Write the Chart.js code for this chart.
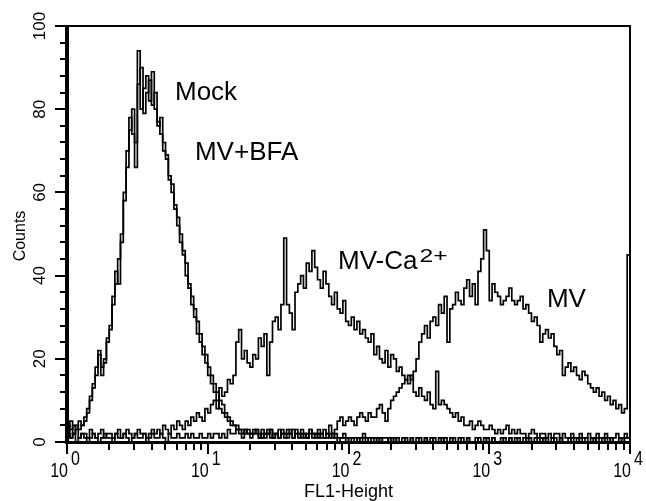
<!DOCTYPE html>
<html>
<head>
<meta charset="utf-8">
<script src="https://cdn.jsdelivr.net/npm/chart.js@4/dist/chart.umd.min.js"></script>
<style>
  html, body { margin: 0; padding: 0; background: #ffffff; }
  #c { display: block; }
</style>
</head>
<body>
<canvas id="c" width="646" height="501"></canvas>
<script>
// ---- data ----
const channelsPerDecade = 50;            // 200 channels across 10^0 .. 10^4
const decadeExponents = [0, 1, 2, 3, 4]; // x tick labels 10^n
const countTicks = [0, 20, 40, 60, 80, 100];
const xTitle = "FL1-Height";
const yTitle = "Counts";
const seriesNames = ["Mock", "MV+BFA", "MV-Ca2+", "MV"];

const mock = [
  4,3,5,2,4,3,4,5,8,11,
  14,18,21,16,20,24,28,33,41,38,
  50,58,70,78,74,66,94,80,85,88,
  82,89,80,77,74,72,68,63,60,57,
  52,48,45,40,37,33,30,26,24,21,
  19,16,14,12,10,8,7,6,5,4,
  4,3,3,2,3,2,1,2,3,1,
  2,1,2,3,1,2,1,2,1,2,
  3,1,2,1,2,1,2,3,1,2,
  1,2,1,1,2,1,2,1,1,2,
  1,0,1,1,0,1,2,0,1,1,
  0,1,0,1,1,0,1,0,1,0,
  1,0,0,1,0,1,0,0,1,0,
  0,1,0,0,1,0,0,1,0,0,
  1,0,0,1,0,0,1,0,0,1,
  0,0,1,0,0,1,0,0,1,0,
  0,1,0,0,1,0,0,1,0,0,
  1,0,0,1,0,0,1,0,0,1,
  0,0,1,0,0,1,0,0,1,0,
  0,1,0,0,1,0,0,1,0,1,
  1
];

const mvBfa = [
  5,4,3,4,3,5,4,6,7,10,
  13,16,22,18,19,25,27,35,38,44,
  48,60,66,75,80,72,86,90,79,84,
  87,81,84,76,78,70,69,64,62,56,
  54,50,46,43,38,35,32,29,26,23,
  21,18,16,14,12,10,9,7,6,5,
  4,4,3,3,2,3,2,2,3,2,
  1,2,3,1,2,2,1,3,2,1,
  2,1,3,2,1,2,1,2,2,1,
  2,1,1,2,1,2,1,0,1,1,
  0,1,1,0,1,0,1,1,0,1,
  1,0,1,0,0,1,0,1,0,0,
  0,1,0,1,0,0,1,0,1,0,
  1,0,0,1,0,1,0,0,1,0,
  0,1,0,1,0,0,0,1,0,0,
  1,0,1,0,0,0,1,0,1,0,
  1,0,0,1,0,1,0,0,0,1,
  0,1,0,0,1,0,1,0,0,0,
  1,0,0,1,0,0,0,1,0,1,
  0,0,1,0,1,0,0,0,1,0,
  0
];

const mvCa = [
  3,2,1,2,3,1,2,2,1,3,
  2,1,2,3,1,2,2,1,2,3,
  1,2,3,2,1,2,3,2,2,1,
  2,3,2,3,2,4,3,2,4,3,
  5,4,3,5,4,6,5,7,6,5,
  8,7,9,10,8,13,11,12,15,14,
  16,24,27,20,22,19,18,21,20,25,
  23,26,16,24,29,30,27,33,49,33,
  31,27,36,38,40,37,43,41,46,42,
  39,37,41,38,35,33,36,32,31,34,
  29,28,30,27,29,26,27,25,24,26,
  21,23,20,19,22,18,21,20,17,18,
  16,15,14,16,12,11,13,11,10,12,
  9,8,17,9,10,9,8,7,6,7,
  5,6,4,4,5,3,4,5,4,3,
  3,4,3,2,3,2,3,4,2,3,
  2,3,2,2,1,2,3,2,1,2,
  2,1,2,1,2,2,1,2,1,1,
  2,1,1,2,1,1,2,1,1,2,
  1,1,2,1,1,1,2,1,1,2,
  1
];

const mv = [
  52,3,1,2,0,1,2,1,0,1,
  2,1,0,1,2,1,1,0,2,1,
  1,2,1,0,1,2,1,1,2,0,
  1,2,1,1,2,1,0,2,1,1,
  2,1,1,2,1,2,1,1,2,1,
  1,2,1,2,2,1,2,1,3,2,
  2,3,2,1,3,2,2,3,2,1,
  3,2,2,3,1,2,3,2,2,3,
  2,3,2,2,3,2,1,3,2,2,
  3,2,3,2,4,2,3,5,6,4,
  5,6,5,4,6,7,6,5,7,6,
  6,8,9,7,5,8,10,11,12,13,
  14,15,16,15,17,20,24,26,28,25,
  29,30,28,33,31,35,24,32,33,36,
  34,33,37,39,35,38,33,41,44,51,
  46,34,38,36,35,33,34,35,37,34,
  33,34,35,32,33,31,29,30,28,24,
  26,27,25,26,23,21,22,16,18,19,
  17,18,16,15,17,16,14,13,12,13,
  11,12,10,11,9,10,8,9,7,8,
  45
];

// ---- presentation ----
const FONT = '"Liberation Sans", Arial, Helvetica, sans-serif';
const annotations = [
  { text: "Mock",   x: 5.85, y: 82.2 },
  { text: "MV+BFA", x: 8.11, y: 67.8 },
  { text: "MV-Ca",  sup: "2+", x: 84.2, y: 41.6 },
  { text: "MV",     x: 2570, y: 32.5 }
];

function toPoints(arr) {
  return arr.map((v, i) => ({ x: Math.pow(10, i / channelsPerDecade), y: v }));
}

const allSeries = [mock, mvBfa, mvCa, mv];

const framePlugin = {
  id: 'framePlugin',
  afterDraw(chart) {
    const ctx = chart.ctx;
    const xs = chart.scales.x, ys = chart.scales.y;
    const ca = chart.chartArea;
    const L = Math.round(ca.left), R = Math.round(ca.right);
    const T = Math.round(ca.top), B = Math.round(ca.bottom);
    ctx.save();
    ctx.fillStyle = '#000000';
    // frame
    ctx.fillRect(L - 1, T - 1, R - L + 2, 2);      // top
    ctx.fillRect(R - 1, T - 1, 2, B - T + 2);      // right
    ctx.fillRect(L - 2, B - 1, R - L + 3, 3);      // bottom
    ctx.fillRect(L - 2, T - 1, 4, B - T + 3);      // left

    // y ticks every 4 counts, longer at labelled values
    for (let v = 0; v <= 100; v += 4) {
      const y = Math.round(ys.getPixelForValue(v));
      const len = countTicks.includes(v) ? 10 : 5;
      ctx.fillRect(L - 2 - len, y - 1, len, 2);
    }
    // x ticks: decades and 2..9 minor
    for (let d = 0; d < decadeExponents.length - 1; d++) {
      for (let k = 1; k <= 9; k++) {
        const x = Math.round(xs.getPixelForValue(k * Math.pow(10, decadeExponents[d])));
        const len = k === 1 ? 10 : 6;
        ctx.fillRect(x - 1, B + 2, 2, len);
      }
    }
    {
      const x = Math.round(xs.getPixelForValue(Math.pow(10, decadeExponents[decadeExponents.length - 1])));
      ctx.fillRect(x - 1, B + 2, 2, 10);
    }

    // y tick labels (rotated)
    ctx.font = '17px ' + FONT;
    ctx.textAlign = 'center';
    ctx.textBaseline = 'alphabetic';
    countTicks.forEach(v => {
      const y = ys.getPixelForValue(v);
      ctx.save();
      ctx.translate(45, y);
      ctx.rotate(-Math.PI / 2);
      ctx.fillText(String(v), 0, 0);
      ctx.restore();
    });
    // y title
    ctx.save();
    ctx.font = '16px ' + FONT;
    ctx.translate(25, (ca.top + ca.bottom) / 2 + 2);
    ctx.rotate(-Math.PI / 2);
    ctx.textAlign = 'center';
    ctx.fillText(yTitle, 0, 0);
    ctx.restore();

    // x tick labels 10^n
    decadeExponents.forEach(e => {
      const x = xs.getPixelForValue(Math.pow(10, e));
      ctx.save();
      ctx.font = '20px ' + FONT;
      ctx.translate(x + 1, 477);
      ctx.scale(0.8, 1);
      ctx.textAlign = 'right';
      ctx.fillText('10', 0, 0);
      ctx.restore();
      ctx.save();
      ctx.font = '20px ' + FONT;
      ctx.translate(x + 4, 465);
      ctx.scale(0.8, 1);
      ctx.textAlign = 'left';
      ctx.fillText(String(e), 0, 0);
      ctx.restore();
    });
    // x title
    ctx.font = '18px ' + FONT;
    ctx.textAlign = 'center';
    ctx.fillText(xTitle, (ca.left + ca.right) / 2, 497);

    // curve annotations
    annotations.forEach(a => {
      const x = xs.getPixelForValue(a.x);
      const y = ys.getPixelForValue(a.y);
      ctx.font = '26px ' + FONT;
      ctx.textAlign = 'left';
      ctx.fillText(a.text, x, y);
      if (a.sup) {
        const w = ctx.measureText(a.text).width;
        ctx.save();
        ctx.font = '19px ' + FONT;
        ctx.translate(x + w + 2, y - 7);
        ctx.scale(1.3, 1);
        ctx.fillText(a.sup, 0, 0);
        ctx.restore();
      }
    });
    ctx.restore();
  }
};

new Chart(document.getElementById('c'), {
  type: 'line',
  data: {
    datasets: allSeries.map((arr, i) => ({
      label: seriesNames[i],
      data: toPoints(arr),
      borderColor: '#000000',
      borderWidth: 1.7,
      pointRadius: 0,
      stepped: 'after',
      fill: false,
      clip: 4
    }))
  },
  options: {
    responsive: false,
    animation: false,
    devicePixelRatio: 1,
    layout: { padding: { left: 67, right: 16, top: 26, bottom: 59 } },
    plugins: { legend: { display: false }, tooltip: { enabled: false } },
    scales: {
      x: { type: 'logarithmic', min: 1, max: 10000, display: false },
      y: { type: 'linear', min: 0, max: 100, display: false }
    }
  },
  plugins: [framePlugin]
});
</script>
</body>
</html>
